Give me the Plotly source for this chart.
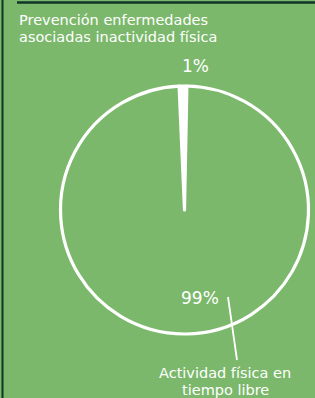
import plotly.graph_objects as go

# Data
categories = ["Otros", "Actividad física en tiempo libre"]
values = [1, 99]
title_lines = ["Prevención enfermedades", "asociadas inactividad física"]
label_lines = ["Actividad física en", "tiempo libre"]

W, H = 315, 398
BG = "#7bb86b"
DARK = "#0e3527"
WHITE = "#ffffff"
FONT = "DejaVu Sans"

cx, cy, r = 184.5, 210.0, 124.0

fig = go.Figure()
fig.add_trace(go.Pie(
    labels=categories,
    values=values,
    sort=False,
    direction="clockwise",
    rotation=-2.5,
    marker=dict(colors=[WHITE, BG], line=dict(color=WHITE, width=3.2)),
    textinfo="none",
    hoverinfo="label+percent",
    showlegend=False,
    domain=dict(x=[(cx - r) / W, (cx + r) / W], y=[1 - (cy + r) / H, 1 - (cy - r) / H]),
))

def px(x):
    return x / W

def py(y):
    return 1 - y / H

ann = []
for line, yy in zip(title_lines, [19.5, 36.5]):
    ann.append(dict(x=px(17), y=py(yy), xref="paper", yref="paper", xanchor="left", yanchor="middle",
                    text=line, showarrow=False, align="left",
                    font=dict(family=FONT, size=14.5, color=WHITE)))
ann.append(dict(x=px(195), y=py(66), xref="paper", yref="paper", xanchor="center", yanchor="middle",
                text=f"{values[0]}%", showarrow=False, font=dict(family=FONT, size=17, color=WHITE)))
ann.append(dict(x=px(200), y=py(298), xref="paper", yref="paper", xanchor="center", yanchor="middle",
                text=f"{values[1]}%", showarrow=False, font=dict(family=FONT, size=17, color=WHITE)))
for line, yy in zip(label_lines, [372.5, 389.5]):
    ann.append(dict(x=px(225), y=py(yy), xref="paper", yref="paper", xanchor="center", yanchor="middle",
                    text=line, showarrow=False,
                    font=dict(family=FONT, size=14.5, color=WHITE)))

shapes = [
    dict(type="line", xref="paper", yref="paper", x0=px(17), x1=1, y0=py(2.5), y1=py(2.5),
         line=dict(color=DARK, width=2.5)),
    dict(type="line", xref="paper", yref="paper", x0=px(2.5), x1=px(2.5), y0=0, y1=1,
         line=dict(color=DARK, width=2)),
    dict(type="line", xref="paper", yref="paper", x0=px(228), x1=px(237), y0=py(297), y1=py(360),
         line=dict(color=WHITE, width=1.8)),
]

fig.update_layout(
    width=W, height=H,
    margin=dict(l=0, r=0, t=0, b=0),
    paper_bgcolor=BG, plot_bgcolor=BG,
    annotations=ann, shapes=shapes,
)
fig.write_html("out.html", config={"displayModeBar": False})

with open("out.html", "r", encoding="utf-8") as f:
    html = f.read()
html = html.replace("<head>", "<head><style>html,body{margin:0;padding:0;overflow:hidden;}</style>", 1)
with open("out.html", "w", encoding="utf-8") as f:
    f.write(html)
